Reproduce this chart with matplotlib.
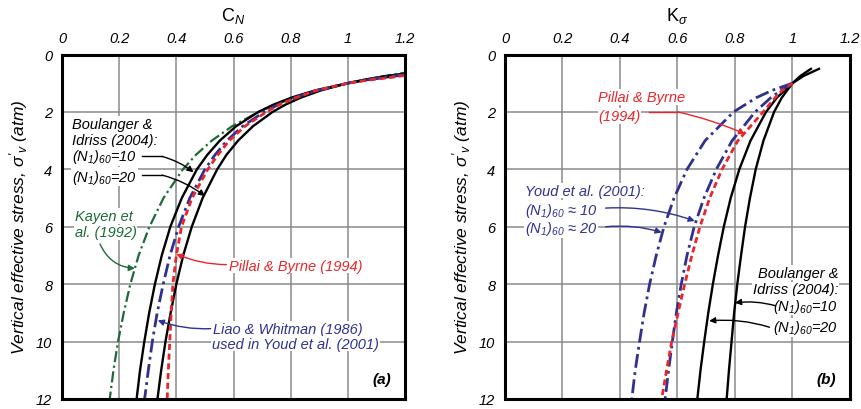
import matplotlib

matplotlib.use("Agg")
import matplotlib.pyplot as plt

plt.rcParams["font.family"] = ["Liberation Sans", "DejaVu Sans"]
plt.rcParams["font.style"] = "italic"
plt.rcParams["mathtext.fontset"] = "custom"
plt.rcParams["mathtext.rm"] = "Liberation Sans:italic"
plt.rcParams["mathtext.it"] = "Liberation Sans:italic"

# ---- data ----
# (a) overburden correction factor C_N vs vertical effective stress (atm)
cn_stress = [0.6, 0.7, 0.8, 0.9, 1.0, 1.25, 1.5, 1.75, 2, 2.5, 3, 3.5, 4, 5, 6, 7, 8, 9, 10, 11, 12]
cn_bi_10 = [1.318, 1.213, 1.128, 1.059, 1.0, 0.886, 0.803, 0.739, 0.687, 0.609, 0.552, 0.508,
            0.472, 0.419, 0.379, 0.349, 0.325, 0.305, 0.288, 0.273, 0.261]
cn_bi_20 = [1.253, 1.170, 1.103, 1.047, 1.0, 0.906, 0.836, 0.781, 0.737, 0.668, 0.616, 0.575,
            0.543, 0.492, 0.454, 0.424, 0.400, 0.380, 0.362, 0.347, 0.334]
cn_liao = [1.291, 1.195, 1.118, 1.054, 1.0, 0.894, 0.816, 0.756, 0.707, 0.632, 0.577, 0.535,
           0.500, 0.447, 0.408, 0.378, 0.354, 0.333, 0.316, 0.302, 0.289]
cn_kayen = [1.222, 1.158, 1.100, 1.048, 1.0, 0.898, 0.815, 0.746, 0.688, 0.595, 0.524, 0.468,
            0.423, 0.355, 0.306, 0.268, 0.239, 0.216, 0.196, 0.180, 0.167]
cn_pillai = [1.30, 1.22, 1.15, 1.065, 1.0, 0.89, 0.82, 0.76, 0.715, 0.64, 0.585, 0.545,
             0.51, 0.455, 0.418, 0.400, 0.388, 0.382, 0.377, 0.372, 0.368]

# (b) K_sigma vs vertical effective stress (atm)
ks_bi_stress = [0.5, 0.75, 1, 1.5, 2, 3, 4, 5, 6, 7, 8, 9, 10, 11, 12]
ks_bi_10 = [1.064, 1.027, 1.0, 0.963, 0.936, 0.899, 0.872, 0.852, 0.835, 0.821, 0.808, 0.797,
            0.788, 0.779, 0.771]
ks_bi_20 = [1.092, 1.038, 1.0, 0.946, 0.908, 0.854, 0.815, 0.785, 0.761, 0.741, 0.723, 0.707,
            0.693, 0.680, 0.669]
ks_stress = [1, 1.25, 1.5, 2, 3, 4, 5, 6, 7, 8, 9, 10, 11, 12]
ks_youd_10 = [1.0, 0.96, 0.925, 0.87, 0.79, 0.735, 0.692, 0.658, 0.633, 0.613, 0.596, 0.582,
              0.569, 0.557]
ks_youd_20 = [1.0, 0.929, 0.875, 0.795, 0.696, 0.633, 0.588, 0.553, 0.526, 0.503, 0.484, 0.468,
              0.453, 0.441]
ks_pillai = [1.0, 0.965, 0.94, 0.898, 0.81, 0.755, 0.712, 0.678, 0.65, 0.625, 0.602, 0.58,
             0.562, 0.545]

x_ticks = [0, 0.2, 0.4, 0.6, 0.8, 1, 1.2]
y_ticks = [0, 2, 4, 6, 8, 10, 12]

BLACK = "black"
BLUE = "#2e3192"
RED = "#e8262b"
GREEN = "#1c6b34"
GRID = "#8a8a8a"

dashdot = (0, (5, 1.6, 1, 1.6))
dashed = (0, (2.2, 1.3))
TXT = 10.5


def setup(ax, label):
    ax.set_xlim(0, 1.2)
    ax.set_ylim(12, 0)
    ax.set_xticks(x_ticks)
    ax.set_xticklabels([f"{t:g}" for t in x_ticks])
    ax.set_yticks(y_ticks)
    ax.set_yticklabels([f"{t:g}" for t in y_ticks])
    ax.xaxis.tick_top()
    ax.xaxis.set_label_position("top")
    ax.tick_params(length=0, labelsize=10.5, pad=7)
    for t in ax.get_xticklabels() + ax.get_yticklabels():
        t.set_fontstyle("italic")
    ax.set_xlabel(label, fontsize=13, style="normal", labelpad=8)
    ax.set_ylabel(r"Vertical effective stress, $\sigma'_v$ (atm)", fontsize=12.5, labelpad=4)
    ax.grid(True, color=GRID, linewidth=1.1, zorder=0)
    ax.set_axisbelow(True)
    for s in ax.spines.values():
        s.set_linewidth(2.2)
        s.set_zorder(10)


def label(ax, x, y, s, color, ha="left"):
    ax.text(x, y, s, color=color, fontsize=TXT, ha=ha, va="center", zorder=3,
            bbox=dict(facecolor="white", edgecolor="none", pad=0.5))


def arrow(ax, start, tip, color, rad=0.0):
    ax.annotate("", xy=tip, xytext=start, zorder=5,
                arrowprops=dict(arrowstyle="-|>", color=color, lw=1.0, mutation_scale=9,
                                shrinkA=0, shrinkB=0, connectionstyle=f"arc3,rad={rad}"))


fig = plt.figure(figsize=(8.61, 4.10), dpi=100)
ax1 = fig.add_axes([62 / 861, 10 / 410, 343 / 861, 344.5 / 410])
ax2 = fig.add_axes([505 / 861, 10 / 410, 345 / 861, 344.5 / 410])

# ---- panel (a) ----
setup(ax1, r"C$_N$")
ax1.plot(cn_kayen, cn_stress, color=GREEN, lw=1.6, ls=dashdot, zorder=4)
ax1.plot(cn_bi_10, cn_stress, color=BLACK, lw=1.7, zorder=4)
ax1.plot(cn_bi_20, cn_stress, color=BLACK, lw=1.7, zorder=4)
ax1.plot(cn_liao, cn_stress, color=BLUE, lw=2.0, ls=dashdot, zorder=4)
ax1.plot(cn_pillai, cn_stress, color=RED, lw=2.0, ls=dashed, zorder=4)

label(ax1, 0.035, 2.42, "Boulanger &", BLACK)
label(ax1, 0.035, 2.97, "Idriss (2004):", BLACK)
label(ax1, 0.035, 3.55, r"$(N_1)_{60}$=10", BLACK)
label(ax1, 0.035, 4.25, r"$(N_1)_{60}$=20", BLACK)
ax1.plot([0.28, 0.35], [3.55, 3.55], color=BLACK, lw=1.0, zorder=5)
ax1.plot([0.28, 0.35], [4.2, 4.2], color=BLACK, lw=1.0, zorder=5)
arrow(ax1, (0.35, 3.55), (0.46, 4.1), BLACK, rad=-0.1)
arrow(ax1, (0.35, 4.2), (0.50, 4.93), BLACK, rad=-0.1)

label(ax1, 0.045, 5.62, "Kayen et", GREEN)
label(ax1, 0.045, 6.2, "al. (1992)", GREEN)
arrow(ax1, (0.133, 6.6), (0.255, 7.45), GREEN, rad=0.3)

label(ax1, 0.585, 7.35, "Pillai & Byrne (1994)", RED)
arrow(ax1, (0.575, 7.32), (0.40, 6.95), RED, rad=-0.1)

label(ax1, 0.53, 9.55, "Liao & Whitman (1986)", BLUE)
label(ax1, 0.525, 10.07, "used in Youd et al. (2001)", BLUE)
arrow(ax1, (0.52, 9.55), (0.335, 9.26), BLUE, rad=-0.1)

ax1.text(1.15, 11.3, "(a)", fontsize=11, fontweight="bold", ha="right", va="center")

# ---- panel (b) ----
setup(ax2, r"K$_\sigma$")
ax2.plot(ks_bi_10, ks_bi_stress, color=BLACK, lw=1.7, zorder=4)
ax2.plot(ks_bi_20, ks_bi_stress, color=BLACK, lw=1.7, zorder=4)
ax2.plot(ks_youd_10, ks_stress, color=BLUE, lw=2.0, ls=dashdot, zorder=4)
ax2.plot(ks_youd_20, ks_stress, color=BLUE, lw=2.0, ls=dashdot, zorder=4)
ax2.plot(ks_pillai, ks_stress, color=RED, lw=2.0, ls=dashed, zorder=4)

label(ax2, 0.325, 1.48, "Pillai & Byrne", RED)
label(ax2, 0.325, 2.14, "(1994)", RED)
ax2.plot([0.5, 0.6], [2.0, 2.0], color=RED, lw=1.0, zorder=5)
arrow(ax2, (0.6, 2.0), (0.835, 2.77), RED, rad=-0.05)

label(ax2, 0.07, 4.74, "Youd et al. (2001):", BLUE)
label(ax2, 0.07, 5.4, r"$(N_1)_{60}$ ≈ 10", BLUE)
label(ax2, 0.07, 6.05, r"$(N_1)_{60}$ ≈ 20", BLUE)
arrow(ax2, (0.35, 5.35), (0.66, 5.8), BLUE, rad=-0.1)
arrow(ax2, (0.35, 6.0), (0.545, 6.2), BLUE, rad=-0.1)

label(ax2, 1.16, 7.6, "Boulanger &", BLACK, ha="right")
label(ax2, 1.16, 8.18, "Idriss (2004):", BLACK, ha="right")
label(ax2, 1.16, 8.75, r"$(N_1)_{60}$=10", BLACK, ha="right")
label(ax2, 1.16, 9.5, r"$(N_1)_{60}$=20", BLACK, ha="right")
arrow(ax2, (0.94, 8.75), (0.80, 8.65), BLACK, rad=0.1)
arrow(ax2, (0.92, 9.5), (0.71, 9.28), BLACK, rad=0.1)

ax2.text(1.15, 11.3, "(b)", fontsize=11, fontweight="bold", ha="right", va="center")

fig.savefig("out.png", dpi=100)
